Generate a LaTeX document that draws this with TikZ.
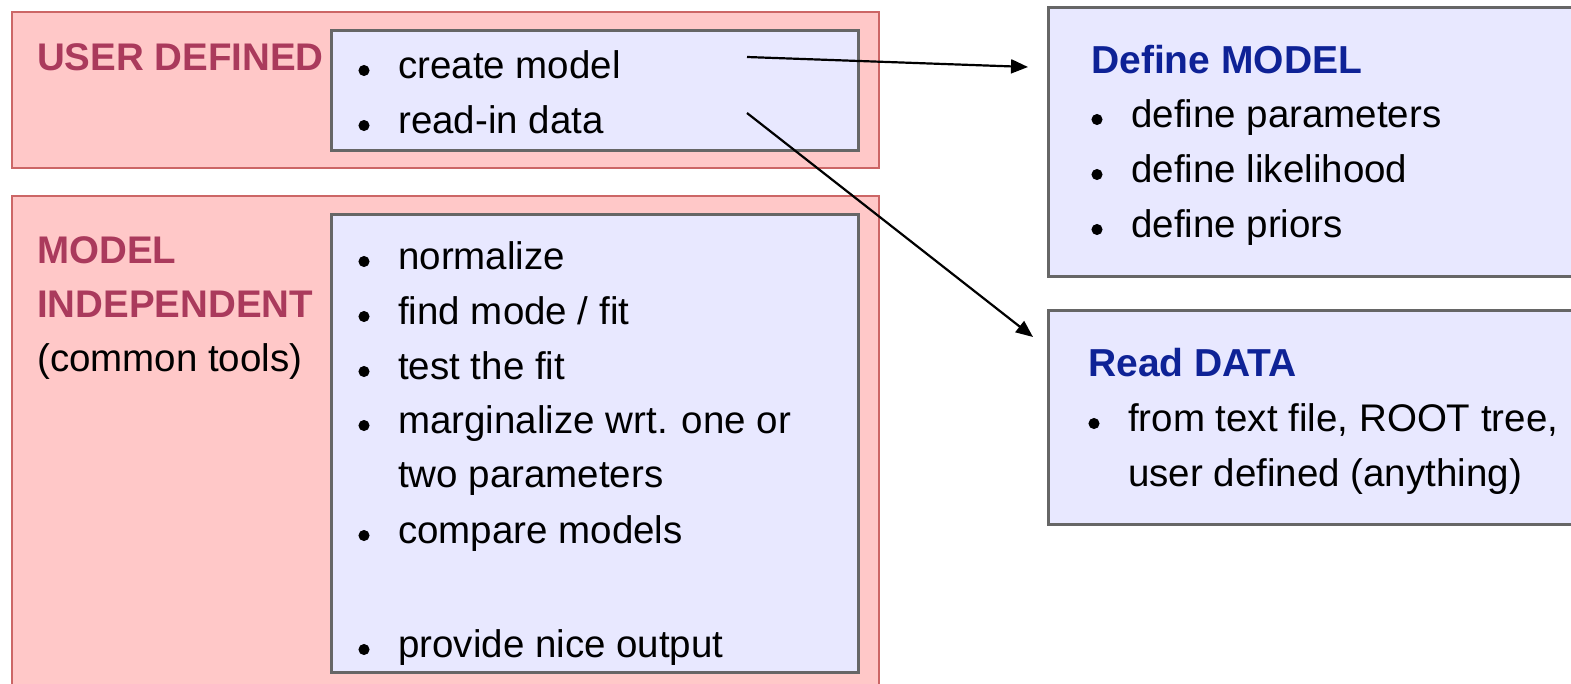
\documentclass[tikz,border=0pt]{standalone}
\usepackage{fontspec}
\setmainfont{Liberation Sans}
\usetikzlibrary{arrows.meta}

\definecolor{panelred}{RGB}{255,200,200}
\definecolor{panelredline}{RGB}{204,102,102}
\definecolor{listblue}{RGB}{232,232,255}
\definecolor{frameGray}{RGB}{102,102,102}
\definecolor{headred}{RGB}{170,58,92}
\definecolor{headblue}{RGB}{14,34,150}

\tikzset{
  panel/.style={draw=panelredline, fill=panelred, line width=2pt, anchor=north west, inner sep=0pt},
  listbox/.style={draw=frameGray, fill=listblue, line width=2.5pt, anchor=north west, inner sep=0pt},
  item/.style={anchor=base west, inner sep=0pt, font=\fontsize{38.5}{44}\selectfont},
  redhead/.style={item, font=\fontsize{38.5}{44}\selectfont\bfseries, text=headred},
  bluehead/.style={item, font=\fontsize{39}{44}\selectfont\bfseries, text=headblue},
  dot/.style={circle, fill=black, draw=black, line width=1pt, inner sep=0pt, minimum size=10pt},
  link/.style={line width=2.2pt, -{Triangle[length=17pt,width=14pt]}}
}

% bullet + text: name, bullet x, baseline y, text
\newcommand\putitem[4]{%
  \node[dot] (#1-dot) at (#2, #3-7.5) {};
  \node[item] (#1) at (#2+34, #3) {#4};
}

\begin{document}
\begin{tikzpicture}[x=1pt, y=-1pt]
\useasboundingbox (0,0) rectangle (1571,683);
\clip (0,0) rectangle (1571,683);

% left column panels
\node[panel, minimum width=867pt, minimum height=156pt] (userpanel) at (11,11) {};
\node[panel, minimum width=867pt, minimum height=520pt] (indeppanel) at (11,195) {};

% lists inside the panels
\node[listbox, minimum width=527pt, minimum height=120pt] (userlist) at (330,29) {};
\node[listbox, minimum width=527pt, minimum height=458pt] (indeplist) at (330,213) {};

% right column boxes
\node[listbox, minimum width=600pt, minimum height=269pt] (modelbox) at (1047,6) {};
\node[listbox, minimum width=600pt, minimum height=214pt] (databox) at (1047,309) {};

% panel headings
\node[redhead] (userhead) at (37,70) {USER DEFINED};
\node[redhead] (indephead1) at (37,263) {MODEL};
\node[redhead] (indephead2) at (37,317) {INDEPENDENT};
\node[item] (indephead3) at (37,371) {(common tools)};

% user-defined items
\putitem{create}{364}{78}{create model}
\putitem{readin}{364}{133}{read-in data}

% model-independent items
\putitem{norm}{364}{269}{normalize}
\putitem{mode}{364}{324}{find mode / fit}
\putitem{test}{364}{379}{test the fit}
\putitem{marg}{364}{433}{marginalize wrt. one or}
\node[item] (marg2) at (398,487) {two parameters};
\putitem{comp}{364}{543}{compare models}
\putitem{nice}{364}{657}{provide nice output}

% define model box
\node[bluehead] (modelhead) at (1091,73) {Define MODEL};
\putitem{par}{1097}{127}{define parameters}
\putitem{lik}{1097}{182}{define likelihood}
\putitem{pri}{1097}{237}{define priors}

% read data box
\node[bluehead] (datahead) at (1088,376) {Read DATA};
\putitem{src}{1094}{431}{from text file, ROOT tree,}
\node[item] (src2) at (1128,486) {user defined (anything)};

% connectors
\coordinate (createout) at (747,57);
\coordinate (readout) at (747,113);
\coordinate (modelin) at (1028,67);
\coordinate (datain) at (1033,337);
\draw[link] (createout) -- (modelin);
\draw[link] (readout) -- (datain);
\end{tikzpicture}
\end{document}
